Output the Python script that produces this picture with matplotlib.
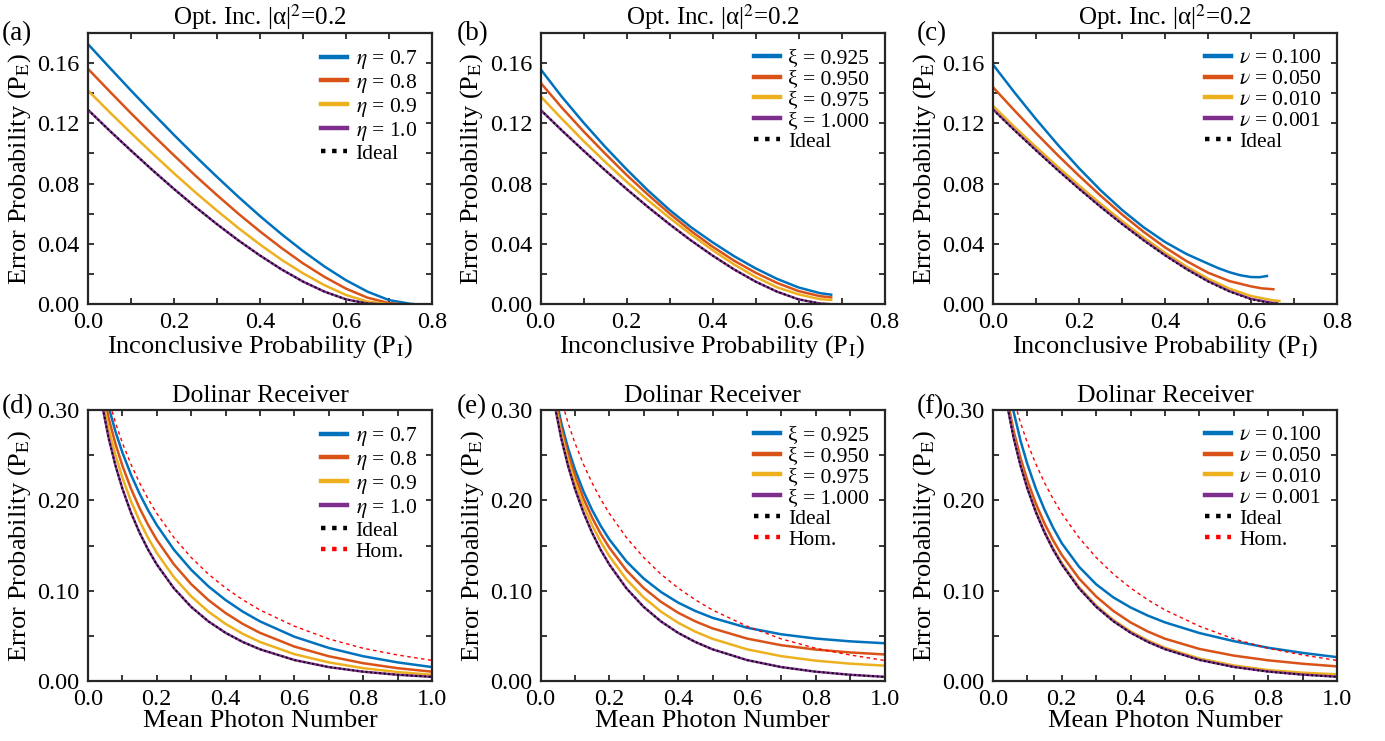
import matplotlib
matplotlib.use("Agg")
import matplotlib.pyplot as plt
from matplotlib.ticker import MultipleLocator, FormatStrFormatter

plt.rcParams["font.family"] = ["Liberation Serif", "DejaVu Serif"]
plt.rcParams["mathtext.fontset"] = "stix"

BLUE, ORANGE, YELLOW, PURPLE = "#0072BD", "#D95319", "#EDB120", "#7E2F8E"
AX_COL = "#262626"

# ---- top row: optimal inconclusive, |alpha|^2 = 0.2 ----
pi_grid = [0.0, 0.05, 0.1, 0.15, 0.2, 0.25, 0.3, 0.35, 0.4, 0.45, 0.5, 0.55, 0.6, 0.65]

pi_ideal = pi_grid + [0.67]
pe_ideal = [.1290, .1152, .1019, .0889, .0764, .0644, .0530, .0422, .0322, .0230, .0149, .0082, .0031, .0003, 0.0]

# (a) detector efficiency eta
pi_a_07 = pi_grid + [0.7, 0.75, 0.756]
pe_a_07 = [.1726, .1571, .1418, .1269, .1123, .0981, .0844, .0711, .0584, .0464, .0352, .0249, .0158, .0082, .0026, .0001, 0.0]
pi_a_08 = pi_grid + [0.7, 0.726]
pe_a_08 = [.1562, .1413, .1267, .1125, .0987, .0852, .0723, .0599, .0482, .0372, .0270, .0180, .0102, .0042, .0006, 0.0]
pi_a_09 = pi_grid + [0.698]
pe_a_09 = [.1418, .1275, .1136, .1000, .0868, .0741, .0620, .0504, .0395, .0294, .0204, .0125, .0060, .0016, 0.0]

# (b) visibility xi
pi_b = pi_grid + [0.676]
pe_b_0925 = [.156, .1375, .1205, .1045, .0895, .0754, .0625, .0510, .0410, .0318, .0237, .0167, .0110, .0072, .0062]
pe_b_0950 = [.147, .1303, .1147, .1000, .0858, .0726, .0601, .0485, .0381, .0288, .0208, .0140, .0086, .0052, .0044]
pe_b_0975 = [.138, .1229, .1083, .0945, .0813, .0689, .0572, .0462, .0358, .0263, .0180, .0111, .0064, .0032, .0027]

# (c) noise nu
pi_c_0100 = [0.0, 0.05, 0.1, 0.15, 0.2, 0.25, 0.3, 0.35, 0.4, 0.45, 0.5, 0.525, 0.55, 0.575, 0.6, 0.62, 0.637]
pe_c_0100 = [.159, .1405, .1228, .1060, .0902, .0756, .0625, .0510, .0412, .0332, .0268, .0237, .0211, .0191, .0179, .0178, .0186]
pi_c_0050 = pi_grid[:-1] + [0.625, 0.652]
pe_c_0050 = [.144, .1285, .1135, .0990, .0852, .0720, .0595, .0480, .0376, .0285, .0208, .0152, .0117, .0104, .0098]
pi_c_0010 = pi_grid + [0.666]
pe_c_0010 = [.1316, .1176, .1043, .0913, .0787, .0666, .0551, .0442, .0341, .0249, .0168, .0102, .0053, .0025, .0020]
pi_c_0001 = pi_grid + [0.66]
pe_c_0001 = [.1293, .1155, .1022, .0892, .0767, .0647, .0533, .0425, .0325, .0233, .0152, .0085, .0034, .0007, .0005]

# ---- bottom row: Dolinar receiver ----
n_grid = [0.02, 0.04, 0.06, 0.08, 0.10, 0.125, 0.15, 0.175, 0.2, 0.25, 0.3, 0.35, 0.4, 0.45, 0.5, 0.6, 0.7, 0.8, 0.9, 1.0]

pe_helstrom = [.3613, .3077, .2690, .2383, .2129, .1863, .1641, .1452, .1290, .1025, .0820, .0660, .0533, .0432, .0351, .0232, .0154, .0103, .0069, .0046]
pe_hom = [.3886, .3446, .3121, .2858, .2635, .2398, .2193, .2014, .1855, .1587, .1367, .1183, .1030, .0899, .0786, .0607, .0466, .0362, .0288, .0228]

# (d) eta
pe_d_07 = [.3830, .3372, .3034, .2760, .2529, .2283, .2072, .1888, .1726, .1452, .1231, .1048, .0896, .0768, .0660, .0490, .0366, .0274, .0206, .0154]
pe_d_08 = [.3755, .3267, .2910, .2624, .2383, .2129, .1913, .1726, .1562, .1290, .1072, .0896, .0752, .0632, .0533, .0381, .0274, .0197, .0142, .0103]
pe_d_09 = [.3682, .3169, .2796, .2499, .2251, .1990, .1770, .1582, .1418, .1148, .0937, .0768, .0632, .0522, .0432, .0297, .0206, .0142, .0099, .0069]

# (e) xi
pe_e_0925 = [.3717, .3221, .2863, .2579, .2344, .2098, .1893, .1718, .1568, .1323, .1134, .0986, .0868, .0775, .0700, .0590, .0517, .0470, .0439, .0418]
pe_e_0950 = [.3682, .3173, .2806, .2514, .2273, .2020, .1809, .1629, .1476, .1224, .1029, .0877, .0756, .0660, .0583, .0470, .0396, .0348, .0316, .0294]
pe_e_0975 = [.3648, .3125, .2748, .2448, .2201, .1941, .1725, .1541, .1383, .1124, .0925, .0769, .0645, .0546, .0467, .0351, .0275, .0225, .0192, .0170]

# (f) nu
pe_f_0100 = [.3920, .3370, .2980, .2660, .2400, .2125, .1895, .1695, .1525, .1265, .1070, .0925, .0814, .0724, .0649, .0531, .0441, .0368, .0311, .0264]
pe_f_0050 = [.3665, .3145, .2769, .2469, .2219, .1960, .1742, .1556, .1395, .1135, .0935, .0775, .0648, .0548, .0468, .0355, .0281, .0229, .0191, .0162]
pe_f_0010 = [.3640, .3100, .2710, .2400, .2145, .1880, .1655, .1468, .1305, .1040, .0836, .0676, .0549, .0449, .0368, .0249, .0172, .0121, .0092, .0074]
pe_f_0001 = [.3615, .3079, .2692, .2385, .2131, .1865, .1643, .1454, .1292, .1027, .0822, .0662, .0535, .0434, .0353, .0234, .0156, .0105, .0071, .0048]

LW = 1.8
DOT = (0, (1, 1.5))

fig = plt.figure(figsize=(13.85, 7.41), dpi=100)
W, H = 1385, 741
lefts = [88, 540.5, 993]
axw, axh = 344, 271
top_axes = [fig.add_axes([l / W, 1 - 304 / H, axw / W, axh / H]) for l in lefts]
bot_axes = [fig.add_axes([l / W, 1 - 681 / H, axw / W, axh / H]) for l in lefts]


def style(ax, top):
    for s in ax.spines.values():
        s.set_linewidth(1.6)
        s.set_color(AX_COL)
    ax.tick_params(which="both", direction="in", top=True, right=True,
                   length=4, width=1.3, color=AX_COL, labelsize=17.5, pad=6)
    if top:
        ax.set_xlim(0, 0.8)
        ax.set_ylim(0, 0.18)
        ax.xaxis.set_major_locator(MultipleLocator(0.2))
        ax.xaxis.set_minor_locator(MultipleLocator(0.1))
        ax.yaxis.set_major_locator(MultipleLocator(0.04))
        ax.yaxis.set_minor_locator(MultipleLocator(0.02))
        ax.set_title("Opt. Inc. |α|$^2$=0.2", fontsize=18, pad=6)
        ax.set_xlabel("Inconclusive Probability (P$_\\mathrm{I}$)", fontsize=19, labelpad=0)
    else:
        ax.set_xlim(0, 1.0)
        ax.set_ylim(0, 0.3)
        ax.xaxis.set_major_locator(MultipleLocator(0.2))
        ax.xaxis.set_minor_locator(MultipleLocator(0.1))
        ax.yaxis.set_major_locator(MultipleLocator(0.1))
        ax.yaxis.set_minor_locator(MultipleLocator(0.05))
        ax.set_title("Dolinar Receiver", fontsize=18.5, pad=6)
        ax.set_xlabel("Mean Photon Number", fontsize=19, labelpad=0)
    ax.xaxis.set_major_formatter(FormatStrFormatter("%.1f"))
    ax.yaxis.set_major_formatter(FormatStrFormatter("%.2f"))
    ax.set_ylabel("Error Probability (P$_\\mathrm{E}$)", fontsize=19, labelpad=3)


def legend(ax):
    leg = ax.legend(loc="upper right", frameon=False, fontsize=15.5,
                    handlelength=1.2, handletextpad=0.4, labelspacing=0.04,
                    borderaxespad=0.3)
    for ln in leg.get_lines():
        ln.set_linewidth(3.2)
        if ln.get_label() == "Hom.":
            ln.set_linestyle(DOT)
    return leg


# (a)
ax = top_axes[0]
ax.plot(pi_a_07, pe_a_07, color=BLUE, lw=LW, label="$\\eta$ = 0.7")
ax.plot(pi_a_08, pe_a_08, color=ORANGE, lw=LW, label="$\\eta$ = 0.8")
ax.plot(pi_a_09, pe_a_09, color=YELLOW, lw=LW, label="$\\eta$ = 0.9")
ax.plot(pi_ideal, pe_ideal, color=PURPLE, lw=LW, label="$\\eta$ = 1.0")
ax.plot(pi_ideal, pe_ideal, color="k", lw=1.3, ls=DOT, label="Ideal")

# (b)
ax = top_axes[1]
ax.plot(pi_b, pe_b_0925, color=BLUE, lw=LW, label="ξ = 0.925")
ax.plot(pi_b, pe_b_0950, color=ORANGE, lw=LW, label="ξ = 0.950")
ax.plot(pi_b, pe_b_0975, color=YELLOW, lw=LW, label="ξ = 0.975")
ax.plot(pi_ideal, pe_ideal, color=PURPLE, lw=LW, label="ξ = 1.000")
ax.plot(pi_ideal, pe_ideal, color="k", lw=1.3, ls=DOT, label="Ideal")

# (c)
ax = top_axes[2]
ax.plot(pi_c_0100, pe_c_0100, color=BLUE, lw=LW, label="$\\nu$ = 0.100")
ax.plot(pi_c_0050, pe_c_0050, color=ORANGE, lw=LW, label="$\\nu$ = 0.050")
ax.plot(pi_c_0010, pe_c_0010, color=YELLOW, lw=LW, label="$\\nu$ = 0.010")
ax.plot(pi_c_0001, pe_c_0001, color=PURPLE, lw=LW, label="$\\nu$ = 0.001")
ax.plot(pi_ideal, pe_ideal, color="k", lw=1.3, ls=DOT, label="Ideal")

# (d)
ax = bot_axes[0]
ax.plot(n_grid, pe_d_07, color=BLUE, lw=LW, label="$\\eta$ = 0.7")
ax.plot(n_grid, pe_d_08, color=ORANGE, lw=LW, label="$\\eta$ = 0.8")
ax.plot(n_grid, pe_d_09, color=YELLOW, lw=LW, label="$\\eta$ = 0.9")
ax.plot(n_grid, pe_helstrom, color=PURPLE, lw=LW, label="$\\eta$ = 1.0")

# (e)
ax = bot_axes[1]
ax.plot(n_grid, pe_e_0925, color=BLUE, lw=LW, label="ξ = 0.925")
ax.plot(n_grid, pe_e_0950, color=ORANGE, lw=LW, label="ξ = 0.950")
ax.plot(n_grid, pe_e_0975, color=YELLOW, lw=LW, label="ξ = 0.975")
ax.plot(n_grid, pe_helstrom, color=PURPLE, lw=LW, label="ξ = 1.000")

# (f)
ax = bot_axes[2]
ax.plot(n_grid, pe_f_0100, color=BLUE, lw=LW, label="$\\nu$ = 0.100")
ax.plot(n_grid, pe_f_0050, color=ORANGE, lw=LW, label="$\\nu$ = 0.050")
ax.plot(n_grid, pe_f_0010, color=YELLOW, lw=LW, label="$\\nu$ = 0.010")
ax.plot(n_grid, pe_f_0001, color=PURPLE, lw=LW, label="$\\nu$ = 0.001")

for ax in bot_axes:
    ax.plot(n_grid, pe_helstrom, color="k", lw=1.3, ls=DOT, label="Ideal")
    ax.plot(n_grid, pe_hom, color="red", lw=1.0, ls=(0, (2.5, 2.5)), label="Hom.")

for ax in top_axes:
    style(ax, True)
    legend(ax)
for ax in bot_axes:
    style(ax, False)
    legend(ax)

labels = ["(a)", "(b)", "(c)", "(d)", "(e)", "(f)"]
xs = [2, 457, 917]
for i, lab in enumerate(labels):
    y = 40 if i < 3 else 413
    fig.text(xs[i % 3] / W, 1 - y / H, lab, fontsize=19.5, va="baseline", ha="left")

fig.savefig("out.png", dpi=100)
